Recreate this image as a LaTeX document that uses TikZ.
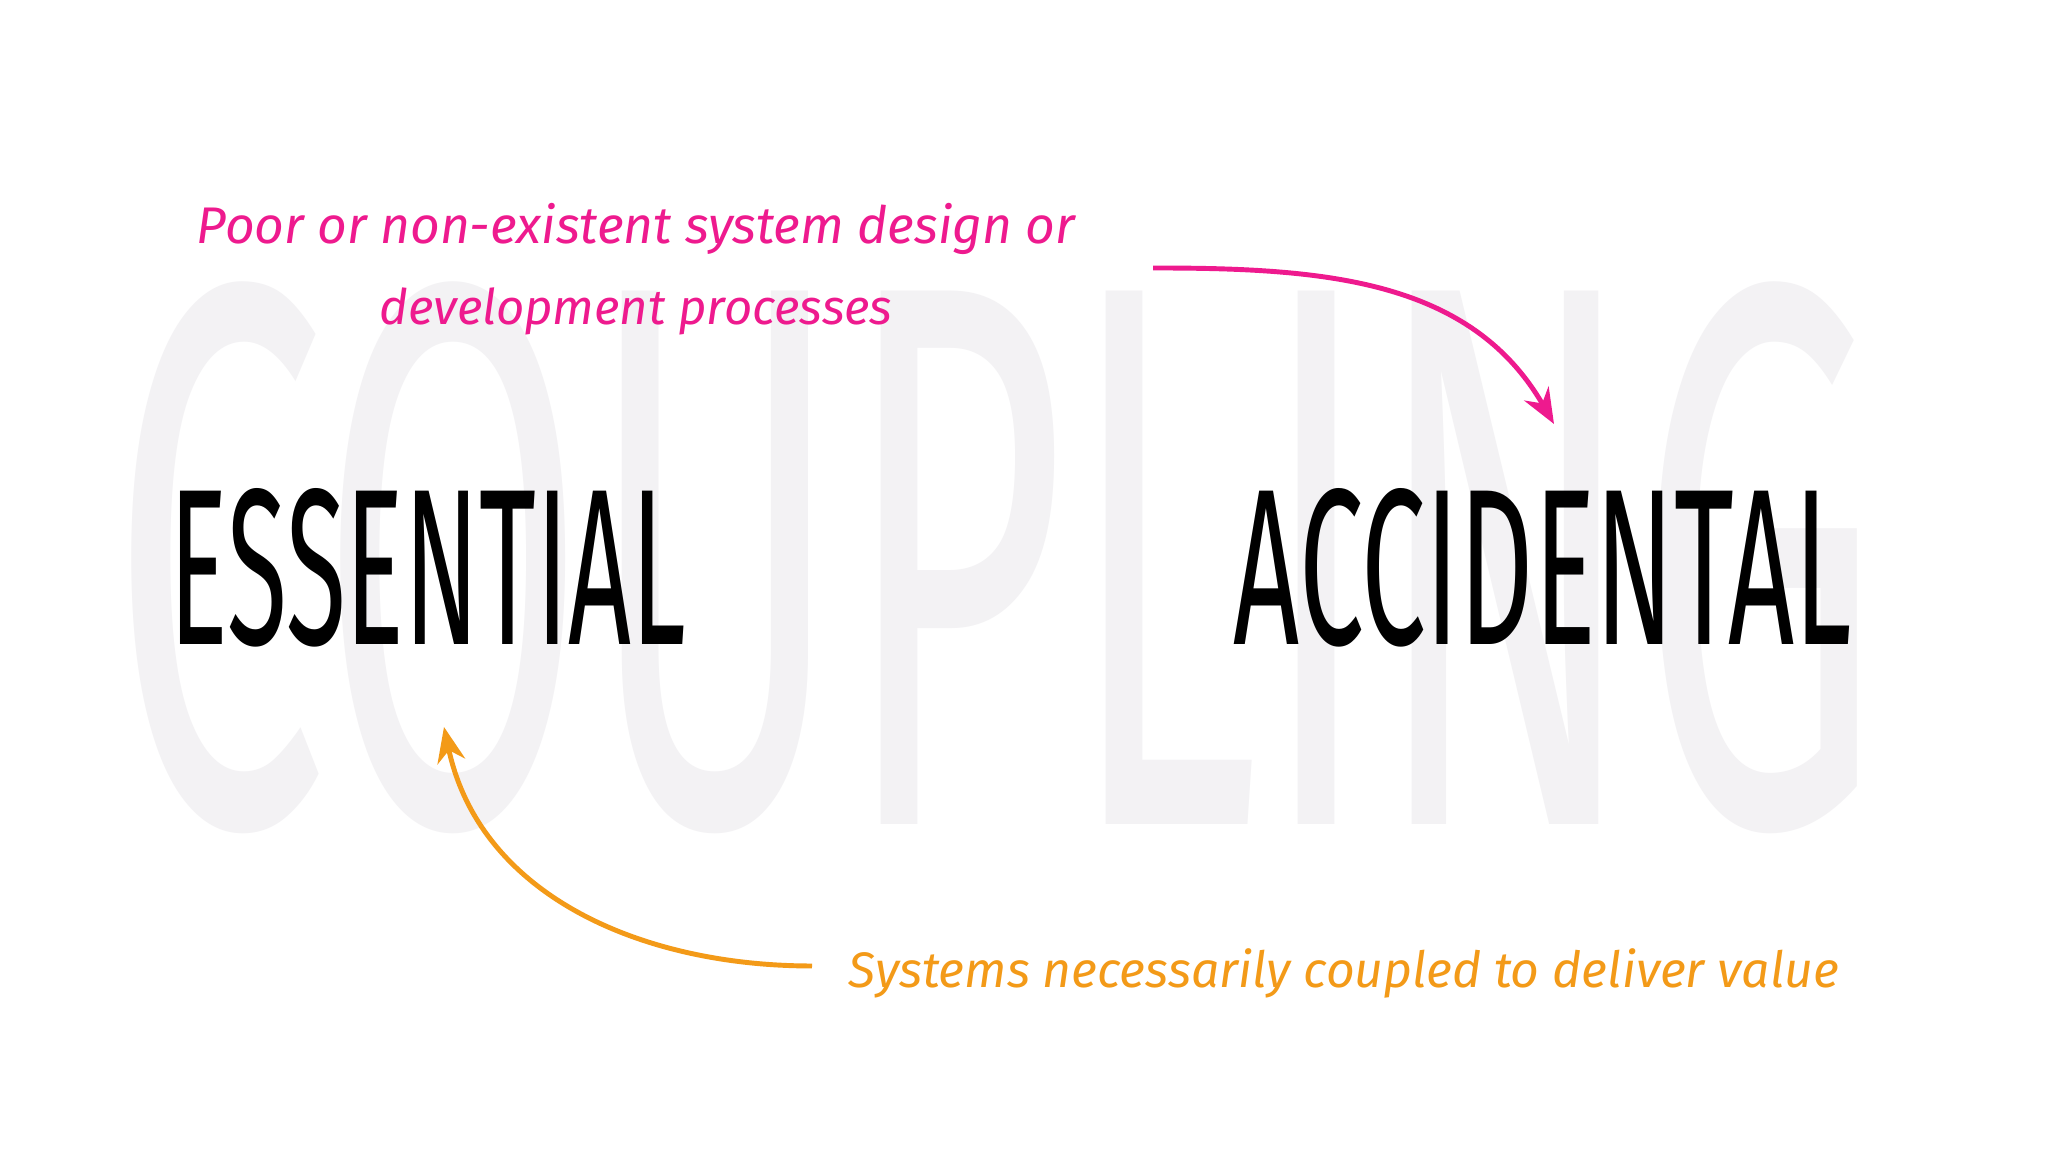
\documentclass[tikz,border=0pt]{standalone}
\usepackage{fontspec}
\usepackage{graphicx}
\setmainfont{Fira Sans}
\usetikzlibrary{arrows.meta}
\definecolor{mag}{HTML}{EE1A8E}
\definecolor{org}{HTML}{F39A18}
\definecolor{bgl}{HTML}{F3F2F4}
\tikzset{
  conn/.style={line width=1.4pt,-{Stealth[length=10pt,width=8pt]}},
  note/.style={inner sep=0pt,anchor=center}
}
\begin{document}
\begin{tikzpicture}
\useasboundingbox[fill=white] (0,0) rectangle (20.48,11.52);
\node[note,text=bgl] (bg) at (9.96,5.94) {\resizebox{17.7cm}{5.42cm}{COUPLING}};
\node[note] (ess) at (4.28,5.84) {\resizebox{5.16cm}{1.56cm}{ESSENTIAL}};
\node[note] (acc) at (15.43,5.84) {\resizebox{6.18cm}{1.56cm}{ACCIDENTAL}};
\node[note,text=mag] (m1) at (6.36,9.23) {\resizebox{8.78cm}{!}{\itshape Poor or non-existent system design or}};
\node[note,text=mag] (m2) at (6.36,8.41) {\resizebox{5.13cm}{!}{\itshape development processes}};
\node[note,text=org] (o1) at (13.44,1.79) {\resizebox{9.9cm}{!}{\itshape Systems necessarily coupled to deliver value}};
\coordinate (ms) at (11.53,8.84);
\coordinate (me) at (15.54,7.28);
\coordinate (os) at (8.12,1.86);
\coordinate (oe) at (4.44,4.25);
\draw[conn,mag] (ms) to[out=0,in=120] (me);
\draw[conn,org] (os) to[out=180,in=-78] (oe);
\end{tikzpicture}
\end{document}
